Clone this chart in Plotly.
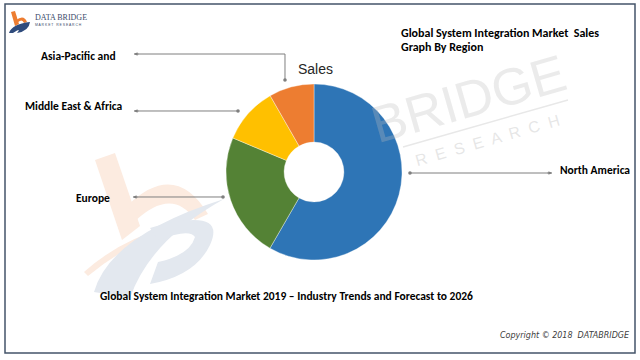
import plotly.graph_objects as go

# ---- data ----
regions = ["North America", "Europe", "Middle East & Africa", "Asia-Pacific and"]
shares = [58.4, 23.0, 10.4, 8.3]
colors = ["#2E75B6", "#548235", "#FFC000", "#ED7D31"]
title_lines = ["Global System Integration Market  Sales", "Graph By Region"]
subtitle = "Global System Integration Market 2019 \u2013 Industry Trends and Forecast to 2026"
chart_name = "Sales"
copyright_txt = "Copyright \u00a9 2018  DATABRIDGE"

W, H = 640, 360
def px(x): return x / W
def py(y): return 1 - y / H

LBL = "Carlito, Calibri, 'Liberation Sans Narrow', 'Liberation Sans', sans-serif"

cx, cy, r = 314, 172, 88

fig = go.Figure()
fig.add_trace(go.Pie(
    labels=regions, values=shares, sort=False, direction="clockwise", rotation=0,
    hole=0.34, textinfo="none", hoverinfo="label+percent",
    marker=dict(colors=colors, line=dict(color="rgba(255,255,255,0.6)", width=0.6)),
    domain=dict(x=[px(cx - r), px(cx + r)], y=[py(cy + r), py(cy - r)]),
    showlegend=False,
))

shapes = []
# frame
shapes.append(dict(type="rect", xref="paper", yref="paper", x0=px(5), x1=px(635), y0=py(353), y1=py(4),
                   line=dict(color="#44546A", width=1.5), layer="above"))

def path(pts, close=True):
    s = "M " + " L ".join(f"{px(x):.5f},{py(y):.5f}" for x, y in pts)
    return s + (" Z" if close else "")

def qpath(cmds):
    out = []
    for c in cmds:
        if isinstance(c, str):
            out.append(c)
        else:
            out.append(f"{px(c[0]):.5f},{py(c[1]):.5f}")
    return " ".join(out)

# watermark "b" logo (light)
LO = "#FCEBE0"
LB = "#E3E8EF"
shapes.append(dict(type="path", xref="paper", yref="paper", layer="below",
                   path=path([(95, 160), (115, 153), (140, 226), (122, 240)]),
                   fillcolor=LO, line=dict(width=0)))
shapes.append(dict(type="path", xref="paper", yref="paper", layer="below",
                   path=qpath(["M", (128, 205), "Q", (175, 160), (208, 214), "L", (195, 220), "Q", (172, 186), (134, 222), "Z"]),
                   fillcolor=LO, line=dict(width=0)))
shapes.append(dict(type="path", xref="paper", yref="paper", layer="below",
                   path=qpath(["M", (84, 272), "Q", (120, 240), (165, 228), "L", (166, 232), "Q", (124, 246), (88, 276), "Z"]),
                   fillcolor=LO, line=dict(width=0)))
shapes.append(dict(type="path", xref="paper", yref="paper", layer="below",
                   path=qpath(["M", (94, 292), "Q", (110, 235), (224, 199), "Q", (150, 240), (130, 298), "Z"]),
                   fillcolor=LB, line=dict(width=0)))
shapes.append(dict(type="path", xref="paper", yref="paper", layer="below",
                   path=qpath(["M", (150, 228), "Q", (228, 206), (210, 245), "Q", (195, 276), (150, 284),
                               "L", (158, 262), "Q", (190, 255), (195, 237), "Q", (190, 228), (158, 240), "Z"]),
                   fillcolor=LB, line=dict(width=0)))
# watermark underline
shapes.append(dict(type="line", xref="paper", yref="paper", layer="below",
                   x0=px(403), y0=py(147), x1=px(568), y1=py(100), line=dict(color="#E8E8E8", width=1.5)))

# hole shadow
hr = 30
shapes.append(dict(type="circle", xref="paper", yref="paper", layer="below",
                   x0=px(cx - hr + 2), x1=px(cx + hr + 2), y0=py(cy + hr + 2), y1=py(cy - hr + 2),
                   fillcolor="#D6D6D6", line=dict(width=0)))
shapes.append(dict(type="circle", xref="paper", yref="paper", layer="below",
                   x0=px(cx - hr), x1=px(cx + hr), y0=py(cy + hr), y1=py(cy - hr),
                   fillcolor="white", line=dict(width=0)))

# leader lines
GR = "#7F7F7F"
leaders = [
    [(134, 54), (285, 54), (285, 80)],
    [(134, 111), (238, 111)],
    [(133, 197), (223, 197)],
    [(552, 173), (410, 173)],
]
for pts in leaders:
    shapes.append(dict(type="path", xref="paper", yref="paper", layer="above",
                       path=path(pts, close=False), line=dict(color=GR, width=1)))
    ex, ey = pts[-1]
    shapes.append(dict(type="circle", xref="paper", yref="paper", layer="above",
                       x0=px(ex - 1.8), x1=px(ex + 1.8), y0=py(ey + 1.8), y1=py(ey - 1.8),
                       fillcolor=GR, line=dict(width=0)))

annotations = []
for pts in leaders:
    (tx, ty), (nx, ny) = pts[0], pts[1]
    dx = 6 if nx > tx else -6
    annotations.append(dict(xref="paper", yref="paper", x=px(tx), y=py(ty), ax=dx, ay=0, text="",
                            showarrow=True, arrowhead=2, arrowsize=0.7, arrowwidth=1, arrowcolor=GR))

def txt(s, x, y, size, xanchor="left", color="#000000", bold=True, family=LBL, italic=False, angle=0):
    t = f"<b>{s}</b>" if bold else s
    if italic:
        t = f"<i>{t}</i>"
    annotations.append(dict(xref="paper", yref="paper", x=px(x), y=py(y), text=t, showarrow=False,
                            xanchor=xanchor, yanchor="middle", textangle=angle,
                            font=dict(size=size, color=color, family=family)))

# watermark text
annotations.append(dict(xref="paper", yref="paper", x=px(468), y=py(99), text="BRIDGE", showarrow=False,
                        xanchor="center", yanchor="middle",
                        textangle=-16, font=dict(size=52, color="rgba(190,190,190,0.3)",
                                                 family="'Liberation Sans Narrow', 'Liberation Sans', sans-serif")))
annotations.append(dict(xref="paper", yref="paper", x=px(487), y=py(141), text="R  E  S  E  A  R  C  H",
                        showarrow=False, xanchor="center", yanchor="middle",
                        textangle=-16, font=dict(size=16, color="rgba(190,190,190,0.38)",
                                                 family="'Liberation Sans', sans-serif")))

# region labels
txt(regions[3], 39, 56, 11.5)
txt(regions[2], 23, 106, 11.5)
txt(regions[1], 74, 198, 11.5)
txt(regions[0], 558, 170, 11.5)
# titles
txt(title_lines[0], 399, 33, 12)
txt(title_lines[1], 399, 47, 12)
txt(chart_name, 315, 69, 14, xanchor="center", color="#262626", bold=False,
    family="'Liberation Sans', Arial, sans-serif")
txt(subtitle, 98, 296, 11.5)
txt(copyright_txt, 632, 335, 8, xanchor="right", color="#404040", bold=False,
    family="'DejaVu Sans', Verdana, sans-serif", italic=True)

# top-left logo
shapes.append(dict(type="path", xref="paper", yref="paper", layer="above",
                   path=path([(11, 12), (15, 11), (19, 24), (15, 26)]), fillcolor="#ED7D31", line=dict(width=0)))
shapes.append(dict(type="path", xref="paper", yref="paper", layer="above",
                   path=qpath(["M", (16, 20), "Q", (24, 14), (27, 22), "L", (24, 23), "Q", (22, 18), (17, 23), "Z"]),
                   fillcolor="#ED7D31", line=dict(width=0)))
shapes.append(dict(type="path", xref="paper", yref="paper", layer="above",
                   path=qpath(["M", (9, 33), "Q", (12, 24), (30, 22), "Q", (29, 31), (17, 33), "Q", (22, 27), (13, 33), "Z"]),
                   fillcolor="#2F4B7C", line=dict(width=0)))
txt("DATA BRIDGE", 33, 17, 8, color="#3A4A6A", bold=False, family="'Liberation Serif', 'DejaVu Serif', serif")
txt("M A R K E T   R E S E A R C H", 33, 25, 3.4, color="#3A4A6A", bold=False, family="'Liberation Sans', sans-serif")

fig.update_layout(
    width=W, height=H, margin=dict(l=0, r=0, t=0, b=0),
    paper_bgcolor="white", plot_bgcolor="white",
    shapes=shapes, annotations=annotations,
)
fig.write_html("out.html", config={"displayModeBar": False},
               post_script="document.body.style.margin='0px';")
